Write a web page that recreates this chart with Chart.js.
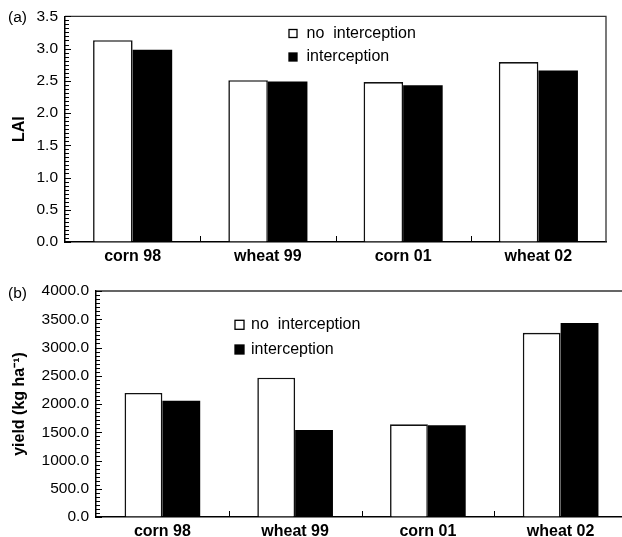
<!DOCTYPE html>
<html><head><meta charset="utf-8">
<script src="https://cdn.jsdelivr.net/npm/chart.js@4"></script>
<style>
html,body{margin:0;padding:0;background:#fff;overflow:hidden;width:622px;height:537px;}
#wrapA{position:absolute;left:0;top:0;width:622px;height:270px;}
#wrapB{position:absolute;left:0;top:270px;width:640px;height:267px;}
canvas{display:block;}
</style></head><body>
<div id="wrapA"><canvas id="cA" width="622" height="270"></canvas></div>
<div id="wrapB"><canvas id="cB" width="640" height="267"></canvas></div>
<script>
// ---- data ----
const categories = ['corn 98', 'wheat 99', 'corn 01', 'wheat 02'];
const seriesNames = ['no  interception', 'interception'];
const laiNoInterception = [3.13, 2.51, 2.48, 2.79];
const laiInterception = [2.98, 2.49, 2.43, 2.66];
const yieldNoInterception = [2195, 2466, 1640, 3260];
const yieldInterception = [2059, 1540, 1622, 3435];
const laiAxis = { min: 0, max: 3.5, step: 0.5, title: 'LAI' };
const yieldAxis = { min: 0, max: 4000, step: 500, title: 'yield (kg ha\u207B\u00B9)' };

const FAM = '"Liberation Sans", Arial, Helvetica, sans-serif';

function decoPlugin(cfg) {
  return {
    id: 'deco',
    afterDraw(chart) {
      const { ctx, chartArea: a, scales: { x, y } } = chart;
      ctx.save();
      // frame (top + right)
      ctx.strokeStyle = '#333';
      ctx.lineWidth = 1.3;
      ctx.beginPath();
      ctx.moveTo(a.left, a.top);
      ctx.lineTo(a.right, a.top);
      ctx.lineTo(a.right, a.bottom);
      ctx.stroke();
      // y-axis major/minor ticks, pointing inward
      ctx.strokeStyle = '#000';
      ctx.lineWidth = 1;
      const step = y.options.ticks.stepSize;
      const n = Math.round((y.max - y.min) / step * cfg.minor);
      for (let i = 0; i <= n; i++) {
        const v = y.min + i * step / cfg.minor;
        const py = Math.round(y.getPixelForValue(v)) + 0.5;
        const len = (i % cfg.minor === 0) ? 6 : 4;
        ctx.beginPath();
        ctx.moveTo(a.left, py);
        ctx.lineTo(a.left + len, py);
        ctx.stroke();
      }
      // x-axis category separators, pointing inward
      for (let i = 1; i < categories.length; i++) {
        const px = Math.round((x.getPixelForValue(i - 1) + x.getPixelForValue(i)) / 2) + 0.5;
        ctx.beginPath();
        ctx.moveTo(px, a.bottom);
        ctx.lineTo(px, a.bottom - 6);
        ctx.stroke();
      }
      // legend
      ctx.font = '16px ' + FAM;
      ctx.textBaseline = 'alphabetic';
      ctx.textAlign = 'left';
      chart.data.datasets.forEach((ds, i) => {
        const by = cfg.legY[i];
        ctx.fillStyle = ds.backgroundColor;
        ctx.fillRect(cfg.legX, by - cfg.sq, cfg.sq, cfg.sq);
        ctx.strokeStyle = '#000';
        ctx.lineWidth = 1.3;
        ctx.strokeRect(cfg.legX, by - cfg.sq, cfg.sq, cfg.sq);
        ctx.fillStyle = '#000';
        ctx.fillText(ds.label, cfg.textX, by);
      });
      // panel label
      ctx.font = '15.5px ' + FAM;
      ctx.textBaseline = 'middle';
      ctx.fillText(cfg.panel, 8, cfg.panelY);
      ctx.restore();
    }
  };
}

function makeChart(id, noData, yesData, axis, opt) {
  return new Chart(document.getElementById(id), {
    type: 'bar',
    data: {
      labels: categories,
      datasets: [
        { label: seriesNames[0], data: noData, backgroundColor: '#ffffff', borderColor: '#111',
          borderWidth: 1.6, categoryPercentage: opt.catPct, barPercentage: 1 },
        { label: seriesNames[1], data: yesData, backgroundColor: '#000000', borderColor: '#000',
          borderWidth: 0, categoryPercentage: opt.catPct, barPercentage: 1 }
      ]
    },
    options: {
      responsive: false,
      animation: false,
      devicePixelRatio: 1,
      layout: { padding: { top: opt.padTop, right: opt.padRight, left: 0, bottom: 0 } },
      plugins: { legend: { display: false }, tooltip: { enabled: false } },
      scales: {
        x: {
          type: 'category',
          offset: true,
          grid: { display: true, drawOnChartArea: false, drawTicks: false, color: 'rgba(0,0,0,0)' },
          border: { display: true, color: '#000', width: 1.5 },
          ticks: { color: '#000', font: { family: FAM, size: 16, weight: 'bold' }, padding: 5,
                   maxRotation: 0, autoSkip: false },
          afterFit(s) { s.height = opt.xH; }
        },
        y: {
          min: axis.min, max: axis.max,
          grid: { display: true, drawOnChartArea: false, drawTicks: false, color: 'rgba(0,0,0,0)' },
          border: { display: true, color: '#000', width: 1.5 },
          ticks: { stepSize: axis.step, color: '#000', font: { family: FAM, size: 15.5 }, padding: 7,
                   callback: v => Number(v).toFixed(1) },
          title: { display: true, text: axis.title, color: '#000',
                   font: { family: FAM, size: 16, weight: 'bold' }, padding: { top: 10, bottom: 0 } },
          afterFit(s) { s.width = opt.yW; }
        }
      }
    },
    plugins: [decoPlugin(opt.deco)]
  });
}

makeChart('cA', laiNoInterception, laiInterception, laiAxis, {
  catPct: 0.585, padTop: 15, padRight: 16, xH: 28, yW: 65,
  deco: { minor: 8, legX: 289, legY: [37.5, 61], sq: 8, textX: 306.5, panel: '(a)', panelY: 18 }
});
makeChart('cB', yieldNoInterception, yieldInterception, yieldAxis, {
  catPct: 0.57, padTop: 21, padRight: 13, xH: 20, yW: 96,
  deco: { minor: 7, legX: 235, legY: [59.3, 84], sq: 9, textX: 251, panel: '(b)', panelY: 24 }
});
</script>
</body></html>
